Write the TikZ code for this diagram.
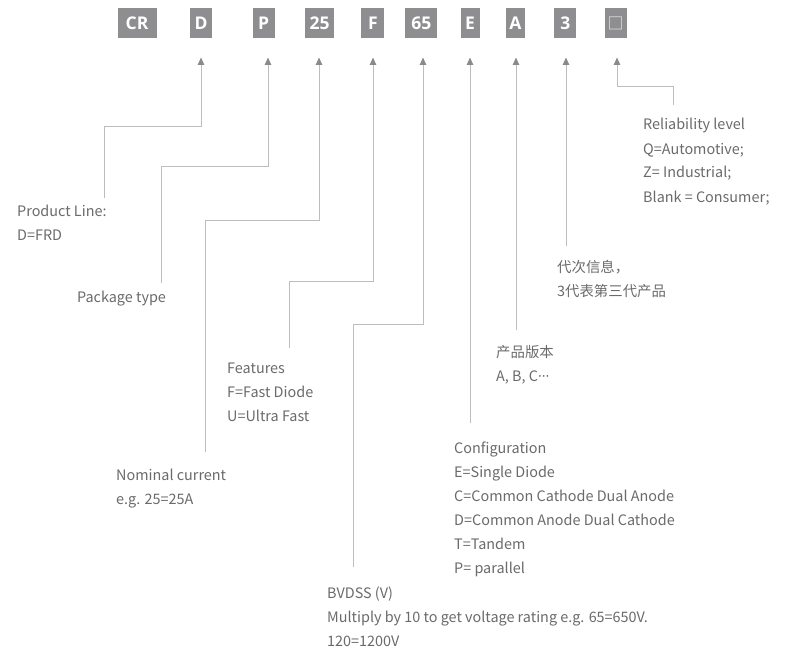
\documentclass[tikz,border=0pt]{standalone}
\usepackage{fontspec}
\setmainfont{Noto Sans CJK SC}
\newfontfamily\boxfont{Open Sans}
\newfontfamily\symfont{Noto Sans CJK SC}
\usetikzlibrary{arrows.meta}
\definecolor{boxgray}{HTML}{8E8E90}
\definecolor{linegray}{HTML}{BDBDBD}
\definecolor{tipgray}{HTML}{8A8A8C}
\definecolor{txtgray}{HTML}{6A6A6A}
\begin{document}
\begin{tikzpicture}[x=1pt,y=-1pt,
  codebox/.style={fill=boxgray,text=white,inner sep=0pt,minimum height=29.6pt,
    font=\boxfont\bfseries\fontsize{17.5}{20}\selectfont},
  conn/.style={draw=linegray,line width=1pt,-{Triangle[width=6.5pt,length=7.5pt,color=tipgray]}},
  txt/.style={anchor=base west,inner sep=0pt,text=txtgray,font=\fontsize{14.4}{24}\selectfont}]
\useasboundingbox (0,0) rectangle (798,650);
% code boxes
\node[codebox,minimum width=39pt] (bCR) at (137,23) {CR};
\node[codebox,minimum width=22pt] (bD) at (201,23) {D};
\node[codebox,minimum width=22pt] (bP) at (263.7,23) {P};
\node[codebox,minimum width=29pt] (b25) at (319.5,23) {25};
\node[codebox,minimum width=23pt] (bF) at (372.8,23) {F};
\node[codebox,minimum width=32pt] (b65) at (421.3,23) {65};
\node[codebox,minimum width=19pt] (bE) at (470,23) {E};
\node[codebox,minimum width=19pt] (bA) at (515.5,23) {A};
\node[codebox,minimum width=22pt] (b3) at (565.4,23) {3};
\node[codebox,minimum width=22pt,font=\symfont\fontsize{16}{18}\selectfont,text=white!90!boxgray] (bQ) at (615.7,23) {□};
% arrow tips
\coordinate (tD) at (201,57.5);
\coordinate (tP) at (268,57.5);
\coordinate (t25) at (319,57.5);
\coordinate (tF) at (373,57.5);
\coordinate (t65) at (423,57.5);
\coordinate (tE) at (470,57.5);
\coordinate (tA) at (516,57.5);
\coordinate (t3) at (566,57.5);
\coordinate (tQ) at (617,57.5);
% connector lower ends
\coordinate (eD) at (104,198);
\coordinate (eP) at (161,283);
\coordinate (e25) at (205,452);
\coordinate (eF) at (289,348);
\coordinate (e65) at (353,567);
\coordinate (eE) at (470,423);
\coordinate (eA) at (516,330);
\coordinate (e3) at (566,246);
\coordinate (eQ) at (673,105);
% connectors
\draw[conn] (eD) -- (104,127) -- (201,127) -- (tD);
\draw[conn] (eP) -- (161,167) -- (268,167) -- (tP);
\draw[conn] (e25) -- (205,220) -- (319,220) -- (t25);
\draw[conn] (eF) -- (289,281) -- (373,281) -- (tF);
\draw[conn] (e65) -- (353,324) -- (423,324) -- (t65);
\draw[conn] (eE) -- (tE);
\draw[conn] (eA) -- (tA);
\draw[conn] (e3) -- (t3);
\draw[conn] (eQ) -- (673,87) -- (617,87) -- (tQ);
% texts
\node[txt] (pl1) at (17,216) {Product Line:};
\node[txt] (pl2) at (17,240) {D=FRD};
\node[txt] (pk1) at (77,302) {Package type};
\node[txt] (nc1) at (116,480) {Nominal current};
\node[txt] (nc2) at (116,504) {e.g. 25=25A};
\node[txt] (fe1) at (227,373) {Features};
\node[txt] (fe2) at (227,397) {F=Fast Diode};
\node[txt] (fe3) at (227,421) {U=Ultra Fast};
\node[txt] (bv1) at (327,598) {BVDSS (V)};
\node[txt] (bv2) at (327,622) {Multiply by 10 to get voltage rating e.g. 65=650V.};
\node[txt] (bv3) at (327,646) {120=1200V};
\node[txt] (cf1) at (454,453) {Configuration};
\node[txt] (cf2) at (454,477) {E=Single Diode};
\node[txt] (cf3) at (454,501) {C=Common Cathode Dual Anode};
\node[txt] (cf4) at (454,525) {D=Common Anode Dual Cathode};
\node[txt] (cf5) at (454,549) {T=Tandem};
\node[txt] (cf6) at (454,573) {P= parallel};
\node[txt] (pv1) at (496,357) {产品版本};
\node[txt] (pv2) at (496,381) {A, B, C{\boxfont···}};
\node[txt] (gi1) at (557,272) {代次信息，};
\node[txt] (gi2) at (557,296) {3代表第三代产品};
\node[txt] (rl1) at (643,130) {Reliability level};
\node[txt] (rl2) at (643,154) {Q=Automotive;};
\node[txt] (rl3) at (643,178) {Z= Industrial;};
\node[txt] (rl4) at (643,202) {Blank = Consumer;};
\end{tikzpicture}
\end{document}
